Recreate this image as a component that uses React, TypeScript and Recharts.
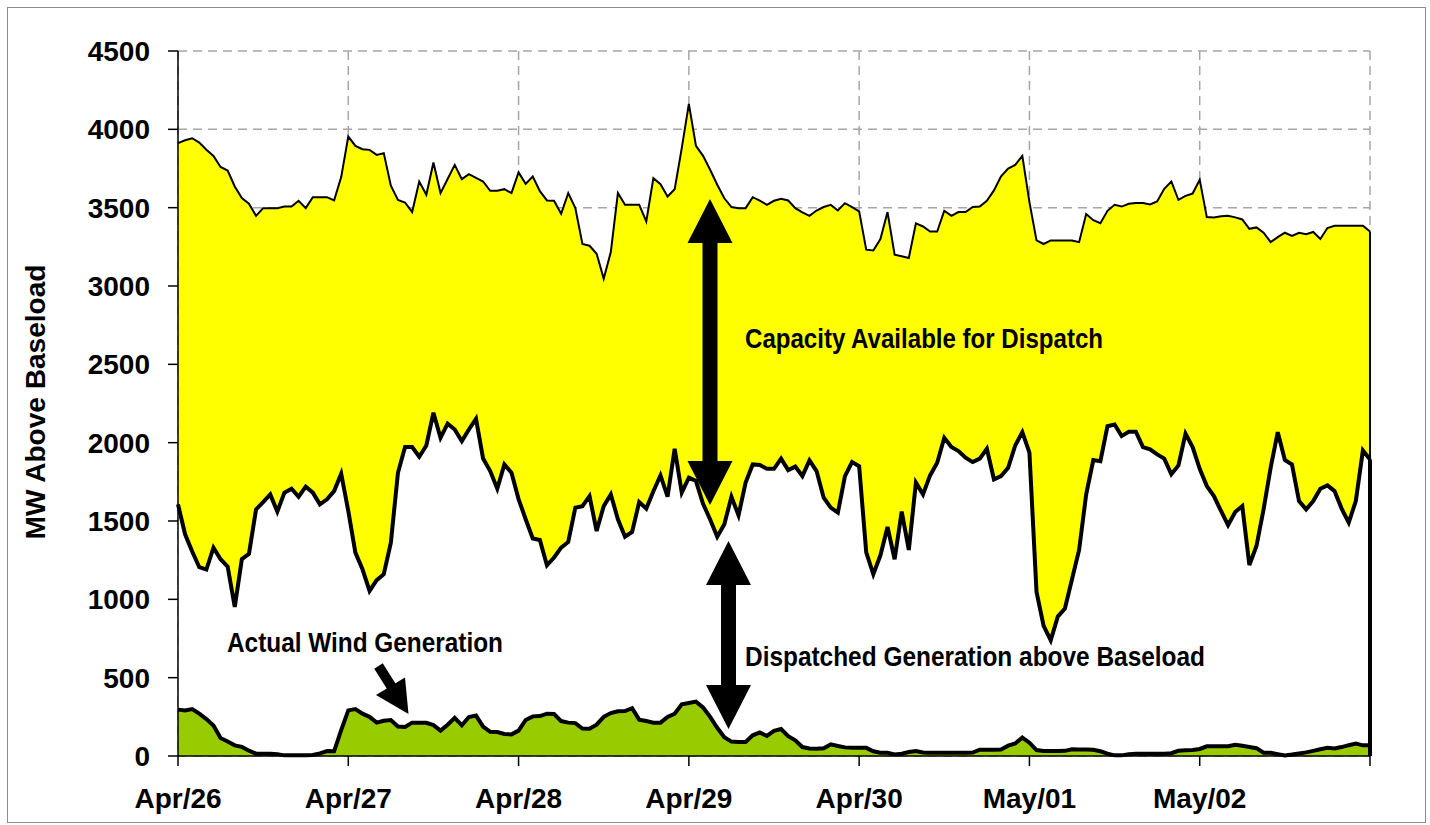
import { ComposedChart, Area, XAxis, YAxis, CartesianGrid, ReferenceLine } from 'recharts';

// hourly values, Apr/26 00:00 .. May/03 00:00 (169 points)
const capacity = [
  3912, 3930, 3943, 3915, 3870, 3830, 3760, 3737, 3635, 3561, 3525, 3448, 3497, 3497, 3497, 3507, 3507, 3544, 3497, 3567, 3567, 3567, 3546, 3695, 3954,
  3894, 3873, 3869, 3837, 3848, 3640, 3550, 3533, 3472, 3667, 3582, 3788, 3593, 3683, 3773, 3682, 3714, 3690, 3667, 3608, 3608, 3618, 3593, 3725,
  3652, 3699, 3605, 3546, 3544, 3461, 3593, 3497, 3268, 3257, 3206, 3047, 3217, 3593, 3518, 3518, 3518, 3412, 3688, 3650, 3571, 3618, 3880, 4162,
  3894, 3831, 3742, 3646, 3560, 3504, 3497, 3497, 3567, 3545, 3518, 3544, 3557, 3546, 3497, 3470, 3448, 3482, 3504, 3518, 3482, 3529, 3504, 3476,
  3232, 3227, 3300, 3472, 3200, 3190, 3179, 3400, 3380, 3348, 3348, 3480, 3448, 3472, 3472, 3504, 3507, 3544, 3610, 3700, 3750, 3773, 3830, 3535,
  3291, 3268, 3291, 3291, 3291, 3291, 3280, 3459, 3420, 3401, 3480, 3518, 3507, 3525, 3529, 3529, 3520, 3540, 3620, 3667, 3550, 3575, 3590, 3678,
  3440, 3437, 3445, 3448, 3438, 3425, 3365, 3374, 3340, 3280, 3312, 3340, 3320, 3340, 3330, 3345, 3300, 3370, 3384, 3384, 3384, 3384, 3384, 3348,
];

const dispatched = [
  1606, 1415, 1305, 1205, 1190, 1330, 1256, 1209, 952, 1256, 1290, 1574, 1621, 1670, 1560, 1681, 1706, 1655, 1719, 1681, 1606, 1638, 1691, 1802, 1564,
  1298, 1192, 1054, 1122, 1160, 1362, 1808, 1972, 1972, 1910, 1982, 2191, 2031, 2121, 2084, 2010, 2084, 2152, 1899, 1819, 1706, 1861, 1808, 1640,
  1511, 1388, 1379, 1217, 1267, 1330, 1366, 1585, 1595, 1659, 1436, 1595, 1670, 1511, 1400, 1430, 1621, 1579, 1690, 1791, 1655, 1961, 1681, 1776,
  1755, 1610, 1510, 1400, 1479, 1655, 1536, 1745, 1861, 1857, 1833, 1833, 1898, 1825, 1847, 1787, 1887, 1819, 1649, 1585, 1553, 1787, 1876, 1850,
  1300, 1160, 1281, 1462, 1256, 1560, 1315, 1745, 1670, 1791, 1872, 2031, 1972, 1946, 1904, 1876, 1898, 1961, 1766, 1787, 1840, 1982, 2067, 1936,
  1047, 831, 739, 890, 941, 1128, 1315, 1670, 1889, 1882, 2105, 2116, 2042, 2070, 2070, 1972, 1957, 1925, 1898, 1798, 1855, 2057, 1972, 1833,
  1723, 1659, 1564, 1474, 1557, 1595, 1219, 1340, 1574, 1840, 2067, 1889, 1861, 1627, 1574, 1627, 1706, 1727, 1691, 1579, 1490, 1627, 1950, 1893,
];

const wind = [
  296, 291, 300, 270, 236, 195, 115, 93, 68, 58, 34, 15, 15, 15, 12, 4, 4, 4, 4, 6, 17, 32, 30, 165, 291,
  300, 270, 250, 213, 225, 230, 188, 185, 213, 213, 212, 197, 162, 200, 244, 196, 249, 258, 188, 154, 153, 141, 138, 162,
  230, 253, 255, 270, 268, 223, 213, 210, 175, 174, 200, 250, 274, 285, 287, 305, 232, 223, 213, 213, 249, 270, 330, 338,
  347, 310, 250, 180, 120, 92, 89, 89, 132, 150, 128, 160, 172, 127, 100, 57, 48, 47, 50, 74, 64, 55, 53, 53,
  52, 30, 21, 21, 10, 15, 25, 32, 22, 21, 21, 21, 21, 21, 21, 22, 40, 40, 40, 42, 66, 80, 118, 85,
  38, 32, 32, 32, 33, 43, 42, 41, 40, 30, 15, 4, 4, 12, 15, 15, 15, 15, 15, 18, 33, 36, 38, 45,
  62, 62, 62, 62, 72, 65, 58, 50, 21, 21, 12, 4, 9, 16, 23, 33, 43, 53, 48, 57, 69, 79, 68, 68,
];

const dayLabels = ['Apr/26', 'Apr/27', 'Apr/28', 'Apr/29', 'Apr/30', 'May/01', 'May/02', ''];
const dayTicks = [0, 24, 48, 72, 96, 120, 144, 168];
const yTicks = [0, 500, 1000, 1500, 2000, 2500, 3000, 3500, 4000, 4500];

const data = capacity.map((c, i) => ({ hour: i, capacity: c, dispatched: dispatched[i], wind: wind[i] }));
const last = data.length - 1;

const FONT = '"Liberation Sans", Arial, sans-serif';
const NARROW = '"Liberation Sans Narrow", "Arial Narrow", "Liberation Sans", Arial, sans-serif';

const XTick = (props: any) => {
    const { x, y, payload } = props;
    const idx = dayTicks.indexOf(payload.value);
    return (
        <text x={x} y={y + 40} textAnchor="middle" fontFamily={FONT} fontWeight="bold" fontSize={28} fill="#000">
            {dayLabels[idx] ?? ''}
        </text>
    );
};

const YTick = (props: any) => {
    const { x, y, payload } = props;
    return (
        <text x={x - 16} y={y + 10} textAnchor="end" fontFamily={FONT} fontWeight="bold" fontSize={28} fill="#000">
            {payload.value}
        </text>
    );
};

// vertical double-headed arrow outline
function doubleArrow(cx: number, top: number, bottom: number) {
    const hl = 44, hw = 22.5, sw = 7.5;
    return [
        [cx, top], [cx + hw, top + hl], [cx + sw, top + hl], [cx + sw, bottom - hl], [cx + hw, bottom - hl],
        [cx, bottom], [cx - hw, bottom - hl], [cx - sw, bottom - hl], [cx - sw, top + hl], [cx - hw, top + hl],
    ].map((p) => p.join(',')).join(' ');
}

export default function App() {
    return (
        <div style={{ position: 'absolute', left: 0, top: 0, width: 1430, height: 825, background: '#fff' }}>
            <div style={{ position: 'absolute', left: 7, top: 7, width: 1419, height: 816, border: '1px solid #8c8c8c', boxSizing: 'border-box' }} />
            <div style={{ position: 'absolute', left: 0, top: 0 }}>
                <ComposedChart width={1430} height={825} data={data} margin={{ top: 51, right: 60, bottom: 9, left: 0 }}>
                    <CartesianGrid strokeDasharray="9 6" stroke="#a6a6a6" strokeWidth={1.5} />
                    <XAxis
                        type="number"
                        dataKey="hour"
                        domain={[0, 168]}
                        ticks={dayTicks}
                        interval={0}
                        height={60}
                        tickSize={10}
                        tick={<XTick />}
                        axisLine={{ stroke: '#000', strokeWidth: 1.5 }}
                        tickLine={{ stroke: '#000', strokeWidth: 1.5 }}
                    />
                    <YAxis
                        type="number"
                        domain={[0, 4500]}
                        ticks={yTicks}
                        interval={0}
                        width={178}
                        tickSize={10}
                        tick={<YTick />}
                        axisLine={{ stroke: '#000', strokeWidth: 1.5 }}
                        tickLine={{ stroke: '#000', strokeWidth: 1.5 }}
                    />
                    <Area type="linear" dataKey="capacity" stroke="#000" strokeWidth={2} fill="#ffff00" fillOpacity={1} isAnimationActive={false} dot={false} activeDot={false} />
                    <ReferenceLine segment={[{ x: 168, y: 0 }, { x: 168, y: capacity[last] }]} stroke="#000" strokeWidth={2} />
                    <Area type="linear" dataKey="dispatched" stroke="#000" strokeWidth={4} fill="#ffffff" fillOpacity={1} isAnimationActive={false} dot={false} activeDot={false} />
                    <Area type="linear" dataKey="wind" stroke="#000" strokeWidth={4} fill="#99cc00" fillOpacity={1} isAnimationActive={false} dot={false} activeDot={false} />
                    <ReferenceLine segment={[{ x: 168, y: 0 }, { x: 168, y: dispatched[last] }]} stroke="#000" strokeWidth={4} />
                </ComposedChart>
            </div>
            <svg width={1430} height={825} style={{ position: 'absolute', left: 0, top: 0, pointerEvents: 'none' }}>
                <text
                    transform="translate(45,402) rotate(-90)"
                    textAnchor="middle"
                    fontFamily={NARROW}
                    fontWeight="bold"
                    fontSize={27}
                    textLength={275}
                    lengthAdjust="spacingAndGlyphs"
                >
                    MW Above Baseload
                </text>
                <polygon points={doubleArrow(710, 199, 505)} fill="#000" />
                <polygon points={doubleArrow(728.5, 541, 729)} fill="#000" />
                <line x1={378.5} y1={666} x2={393} y2={689} stroke="#000" strokeWidth={10} />
                <polygon points="376,695 405,677.5 408.5,714" fill="#000" />
                <text x={745} y={348} fontFamily={NARROW} fontWeight="bold" fontSize={28} textLength={358} lengthAdjust="spacingAndGlyphs">
                    Capacity Available for Dispatch
                </text>
                <text x={227} y={651.5} fontFamily={NARROW} fontWeight="bold" fontSize={28} textLength={276} lengthAdjust="spacingAndGlyphs">
                    Actual Wind Generation
                </text>
                <text x={745} y={665.5} fontFamily={NARROW} fontWeight="bold" fontSize={28} textLength={460} lengthAdjust="spacingAndGlyphs">
                    Dispatched Generation above Baseload
                </text>
            </svg>
        </div>
    );
}
